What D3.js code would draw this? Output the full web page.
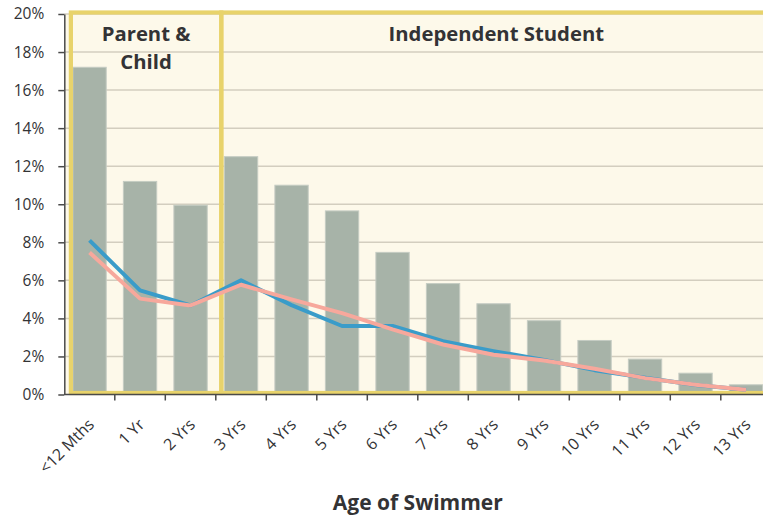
<!DOCTYPE html>
<html><head><meta charset="utf-8">
<script src="https://cdn.jsdelivr.net/npm/d3@7"></script>
<style>
body{margin:0;background:#fff;}
svg{display:block;font-family:"Open Sans",sans-serif;}
</style></head>
<body><svg id="c" width="763" height="517"></svg>
<script>
const categories = ["<12 Mths","1 Yr","2 Yrs","3 Yrs","4 Yrs","5 Yrs","6 Yrs","7 Yrs","8 Yrs","9 Yrs","10 Yrs","11 Yrs","12 Yrs","13 Yrs"];
const barValues = [17.2,11.2,9.95,12.5,11.0,9.65,7.47,5.83,4.77,3.88,2.84,1.86,1.12,0.51];
const blueValues = [8.1,5.47,4.68,6.0,4.7,3.6,3.6,2.8,2.28,1.82,1.28,0.88,0.5,0.25];
const pinkValues = [7.46,5.04,4.68,5.77,5.0,4.28,3.42,2.63,2.09,1.79,1.35,0.86,0.51,0.25];
const yTicks = [0,2,4,6,8,10,12,14,16,18,20];
const groups = [{label:["Parent &","Child"], from:0, to:2},{label:["Independent Student"], from:3, to:13}];
const xTitle = "Age of Swimmer";

(function(){
const svg = d3.select("#c");
const left = 64.3, topY = 14, bottom = 394.5;
const bandW = 50.5;
const x = d3.scaleBand().domain(categories).range([left, left + bandW*categories.length]).paddingInner(0.34).paddingOuter(0.17);
const y = d3.scaleLinear().domain([0,20]).range([bottom, topY]);
const right = left + bandW*categories.length;

svg.append("rect").attr("x", left).attr("y", y(20)).attr("width", right-left).attr("height", bottom-y(20)).attr("fill","#fdf9ea");

svg.append("g").selectAll("line").data(yTicks.filter(d=>d>0)).join("line")
  .attr("x1", left).attr("x2", right).attr("y1", d=>y(d)).attr("y2", d=>y(d))
  .attr("stroke","#d3cebf").attr("stroke-width",1.5);

svg.append("g").selectAll("rect").data(categories).join("rect")
  .attr("x", d=>x(d)).attr("width", x.bandwidth())
  .attr("y", (d,i)=>y(barValues[i])).attr("height",(d,i)=>y(0)-y(barValues[i]))
  .attr("fill","#a7b3a8").attr("stroke","#c5ccc3").attr("stroke-width",1);

const step = x.step();
groups.forEach((g,gi)=>{
  const x0 = gi===0 ? x(categories[g.from]) - 2 : x(categories[g.from]) - (step - x.bandwidth())/2 + 5.5;
  const x1 = gi===0 ? x(categories[g.to]) + x.bandwidth() + (step - x.bandwidth())/2 + 5.5 : right + 20;
  svg.append("rect").attr("x", x0).attr("y", 12.5).attr("width", x1-x0).attr("height", 393-12.5)
    .attr("fill","none").attr("stroke","#e8d36b").attr("stroke-width",4.2);
  const cx = gi===0 ? (x0+x1)/2 : (x0 + right)/2;
  const t = svg.append("text").attr("x", cx).attr("y", 41).attr("text-anchor","middle")
    .attr("font-weight","bold").attr("font-size",20.3).attr("fill","#333335");
  g.label.forEach((l,li)=>t.append("tspan").attr("x",cx).attr("dy", li===0?0:28).text(l));
});

const line = d3.line().x((d,i)=>x(categories[i])+x.bandwidth()/2).y(d=>y(d));
svg.append("path").datum(blueValues).attr("d",line).attr("fill","none").attr("stroke","#3a9cc9").attr("stroke-width",4).attr("stroke-linejoin","round");
svg.append("path").datum(pinkValues).attr("d",line).attr("fill","none").attr("stroke","#f7a89c").attr("stroke-width",4).attr("stroke-linejoin","round");

const yAxis = d3.axisLeft(y).tickValues(yTicks).tickFormat(d=>d+"%").tickSize(6).tickSizeOuter(0);
const ya = svg.append("g").attr("transform",`translate(${left},0)`).call(yAxis);
ya.select(".domain").attr("stroke","#4a4a4a").attr("stroke-width",1.5);
ya.selectAll(".tick line").attr("stroke","#4a4a4a").attr("stroke-width",1.5);
ya.selectAll(".tick text").attr("font-size",15.5).attr("fill","#333335").attr("x",-20).attr("font-family","Open Sans");

const xTickScale = d3.scaleLinear().domain([0,categories.length]).range([left,right]);
const xa = svg.append("g");
xa.append("line").attr("x1",left).attr("x2",right).attr("y1",bottom).attr("y2",bottom).attr("stroke","#4a4a4a").attr("stroke-width",1.5);
xa.selectAll("line.t").data(d3.range(1,categories.length+1)).join("line").attr("class","t")
  .attr("x1",d=>xTickScale(d)).attr("x2",d=>xTickScale(d)).attr("y1",bottom).attr("y2",bottom+6)
  .attr("stroke","#4a4a4a").attr("stroke-width",1.5);
xa.selectAll("text").data(categories).join("text")
  .attr("transform", d=>`translate(${x(d)+x.bandwidth()/2+5.5},${bottom+31}) rotate(-45)`)
  .attr("text-anchor","end").attr("font-size",16).attr("fill","#333335").text(d=>d);

svg.append("text").attr("x",(left+right)/2).attr("y",510).attr("text-anchor","middle")
  .attr("font-weight","bold").attr("font-size",21).attr("fill","#333335").text(xTitle);
})();
</script></body></html>
